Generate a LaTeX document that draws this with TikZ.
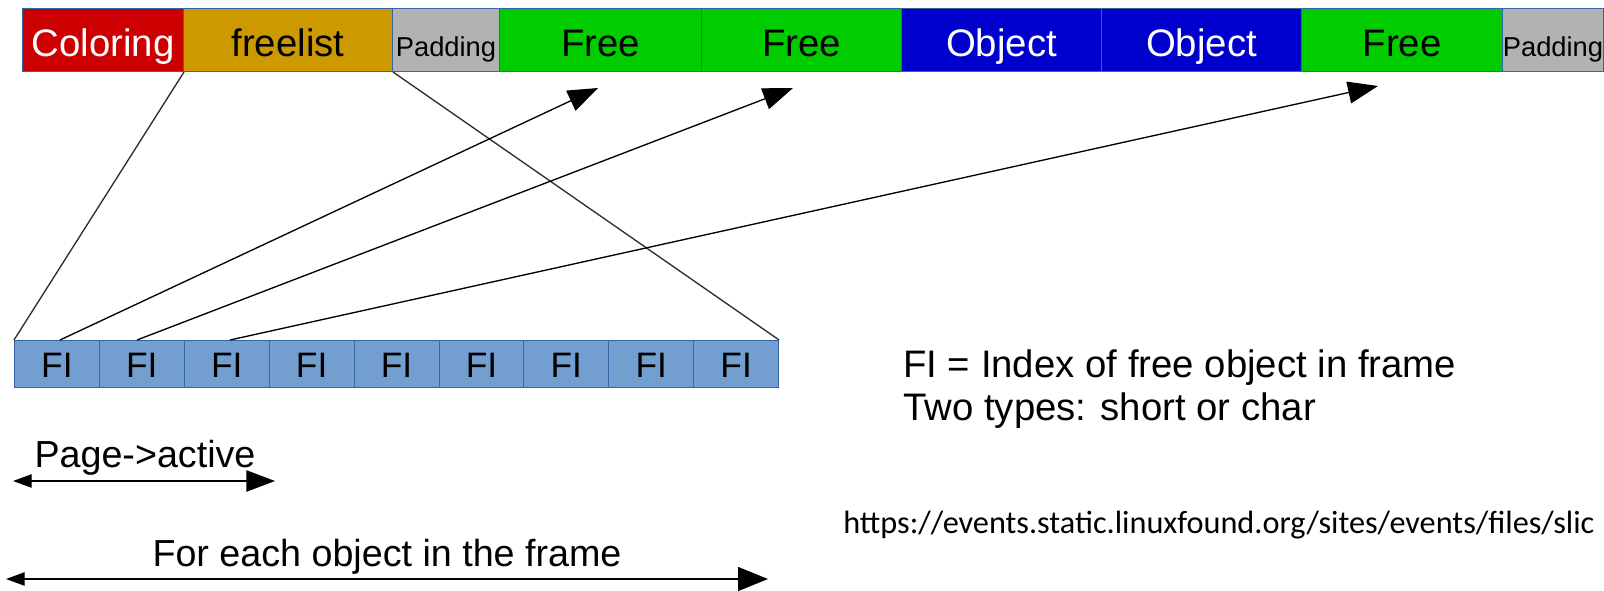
\documentclass[tikz,border=0pt]{standalone}
\usepackage{fontspec}
\setmainfont{Liberation Sans}
\newfontfamily\carlito{Carlito}
\usetikzlibrary{arrows.meta}

\definecolor{colred}{RGB}{204,0,0}
\definecolor{colgold}{RGB}{204,153,0}
\definecolor{colgray}{RGB}{178,178,178}
\definecolor{colgreen}{RGB}{0,204,0}
\definecolor{colblue}{RGB}{0,0,204}
\definecolor{fifill}{RGB}{114,159,207}
\definecolor{cellline}{RGB}{52,101,164}
\definecolor{wire}{RGB}{45,45,45}

\newcommand\barfont{\fontsize{28.75pt}{33pt}\selectfont}
\newcommand\padfont{\fontsize{20.5pt}{24pt}\selectfont}
\newcommand\fifont{\fontsize{26.5pt}{30pt}\selectfont}
\newcommand\legendfont{\fontsize{28.75pt}{33pt}\selectfont}
\newcommand\spanfont{\fontsize{28.25pt}{33pt}\selectfont}
\newcommand\linkfont{\carlito\fontsize{24.2pt}{29pt}\selectfont}

\begin{document}
\begin{tikzpicture}[x=0.75pt,y=-0.75pt,
  barcell/.style={draw=cellline, line width=0.75pt, inner sep=0pt,
    anchor=north west, minimum height={63*0.75pt},
    text height=24.75pt, text depth=0pt, font=\barfont},
  ficell/.style={draw=cellline, line width=0.75pt, fill=fifill, inner sep=0pt,
    anchor=north west, minimum width={84.9*0.75pt}, minimum height={47*0.75pt},
    text height=20.25pt, text depth=0pt, font=\fifont},
  conn/.style={draw=wire, line width=1pt},
  ptr/.style={draw=black, line width=1pt, -{Triangle[length=22.5pt,width=16.5pt]}},
  span/.style={draw=black, line width=1pt},
  note/.style={inner sep=0pt, anchor=base}
]
\useasboundingbox (0,0) rectangle (1604,590);
\begin{scope}
\clip (0,0) rectangle (1604,590);

% slab layout bar
\node[barcell, fill=colred, text=white, minimum width={161*0.75pt}] (c1) at (22,8) {Coloring};
\node[barcell, fill=colgold, minimum width={209*0.75pt}] (c2) at (183,8) {freelist};
\node[barcell, fill=colgray, font=\padfont, minimum width={107*0.75pt}] (c3) at (392,8) {Padding};
\node[barcell, fill=colgreen, minimum width={202*0.75pt}] (c4) at (499,8) {Free};
\node[barcell, fill=colgreen, minimum width={200*0.75pt}] (c5) at (701,8) {Free};
\node[barcell, fill=colblue, text=white, minimum width={200*0.75pt}] (c6) at (901,8) {Object};
\node[barcell, fill=colblue, text=white, minimum width={200*0.75pt}] (c7) at (1101,8) {Object};
\node[barcell, fill=colgreen, minimum width={201*0.75pt}] (c8) at (1301,8) {Free};
\node[barcell, fill=colgray, font=\padfont, minimum width={101*0.75pt}] (c9) at (1502,8) {Padding};

% free-index array
\foreach \i in {1,...,9} {
  \node[ficell] (fi\i) at ({14+(\i-1)*84.9},340) {FI};
}

% zoom lines from the freelist field to the index array
\draw[conn] (c1.south east) -- (fi1.north west);
\draw[conn] (c2.south east) -- (fi9.north east);

% index entries pointing at free objects
\coordinate (s1) at (60,340);
\coordinate (s2) at (137,340);
\coordinate (s3) at (230,340);
\coordinate (t1) at (598,88);
\coordinate (t2) at (793,88);
\coordinate (t3) at (1378,86);
\draw[ptr] (s1) -- (t1);
\draw[ptr] (s2) -- (t2);
\draw[ptr] (s3) -- (t3);

% extents below the array
\coordinate (pa-l) at (13,481);
\coordinate (pa-r) at (275,481);
\draw[span, {Triangle[length=14pt,width=10pt]}-{Triangle[length=21.5pt,width=16pt]}] (pa-l) -- (pa-r);
\node[note, font=\spanfont] (palabel) at (145,467) {Page->active};

\coordinate (fe-l) at (6,579);
\coordinate (fe-r) at (768,579);
\draw[span, {Triangle[length=14pt,width=10pt]}-{Triangle[length=22.5pt,width=18pt]}] (fe-l) -- (fe-r);
\node[note, font=\spanfont] (felabel) at (387,566) {For each object in the frame};

% legend
\node[note, anchor=base west, font=\legendfont] (leg1) at (903,377) {FI = Index of free object in frame};
\node[note, anchor=base west, font=\legendfont] (leg2) at (903,420) {Two types: short or char};

% source link
\node[note, anchor=base west, font=\linkfont] (src) at (843,533) {https://events.static.linuxfound.org/sites/events/files/slic};
\end{scope}
\end{tikzpicture}
\end{document}
